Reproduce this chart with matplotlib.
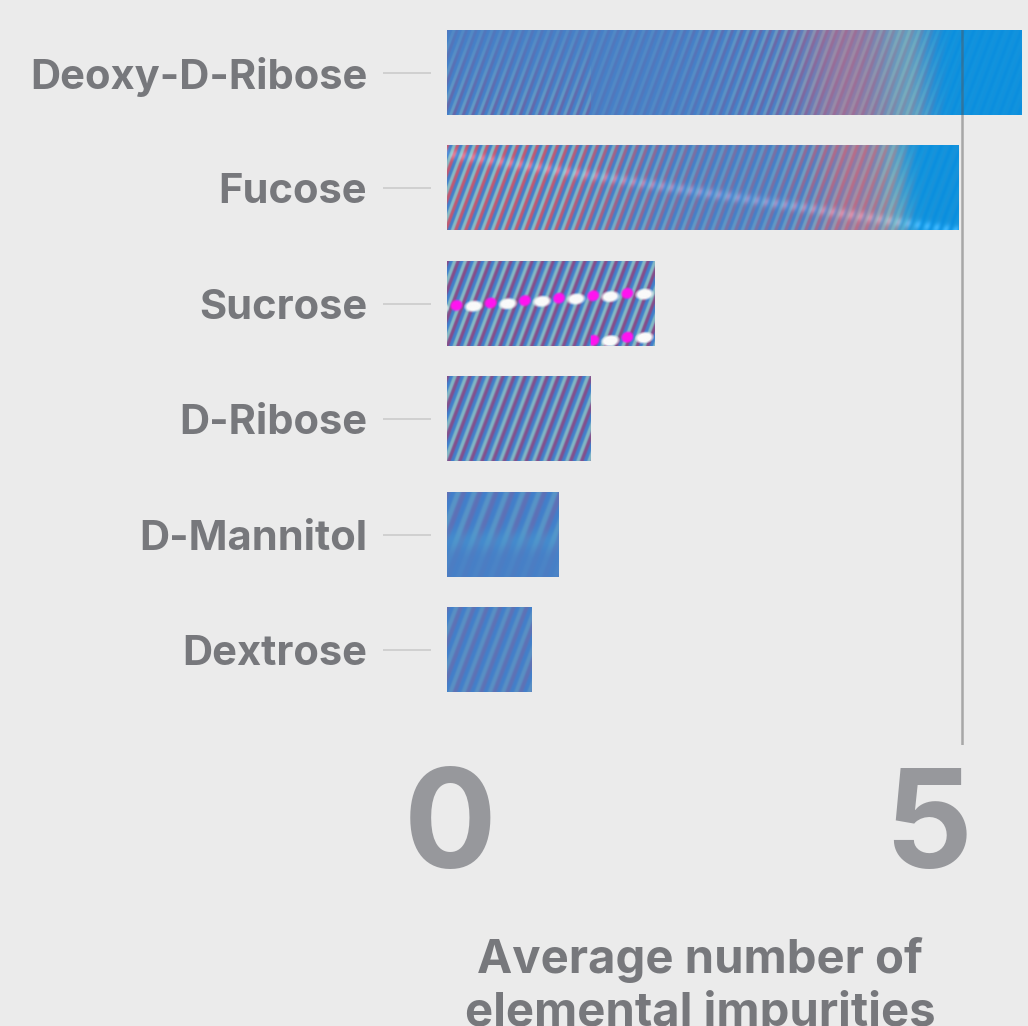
import numpy as np
import matplotlib.pyplot as plt
from matplotlib.transforms import ScaledTranslation

sugars = ['Deoxy-D-Ribose', 'Fucose', 'Sucrose', 'D-Ribose', 'D-Mannitol', 'Dextrose']
impurities = [5.58, 4.97, 2.01, 1.39, 1.08, 0.82]
x_ticks = [0, 5]
x_tick_labels = ['0', '5']
x_title = 'Average number of\nelemental impurities'

BG = '#ebebeb'
TEXT = '#77787c'
PX_PER_UNIT = 103.0   # 0 at x=447px, 5 at x=962px
BAR_PX = 84

plt.rcParams['font.family'] = ['Inter', 'Liberation Sans', 'DejaVu Sans']
plt.rcParams['font.weight'] = 'bold'


def rgb(*c):
    return np.array(c, dtype=float) / 255.0


def smooth(x, a, b):
    t = np.clip((x - a) / (b - a), 0, 1)
    return t * t * (3 - 2 * t)


def gauss(x, c, s):
    return np.exp(-0.5 * ((x - c) / s) ** 2)


BLUE = rgb(60, 126, 206)
TEAL = rgb(140, 195, 198)
PURPLE = rgb(140, 68, 130)
RED = rgb(205, 82, 104)
FLAT = rgb(72, 128, 198)
BRIGHT = rgb(0, 144, 226)


# striped "photo" texture used as bar fill
def texture(w, h, period, amp, tones, haze=None, bright=None, streak=None,
            band=None, dots=False):
    rows, cols = np.mgrid[0:h, 0:w].astype(float)
    frac = cols / max(w - 1, 1)
    p = 2 * np.pi * (cols + 0.38 * rows) / period
    wts = [np.exp(2.2 * np.cos(p - k * 2 * np.pi / 3)) for k in range(3)]
    tot = sum(wts)
    stripes = sum(wk[..., None] * c for wk, c in zip(wts, tones)) / tot[..., None]
    a = np.clip(amp(frac, rows / h), 0, 1)[..., None]
    img = FLAT * (1 - a) + stripes * a
    if haze is not None:
        c, s = haze
        g = gauss(frac, c, s)[..., None]
        img = img * (1 - 0.55 * g) + rgb(200, 118, 138) * 0.55 * g
        g2 = gauss(frac, c + 1.7 * s, s * 0.6)[..., None]
        img = img * (1 - 0.45 * g2) + rgb(120, 195, 190) * 0.45 * g2
    if bright is not None:
        m = smooth(frac, bright[0], bright[1])[..., None]
        lift = 0.10 * (0.5 + 0.5 * np.cos(p))[..., None]
        img = img * (1 - 0.85 * m) + (BRIGHT + lift * rgb(60, 80, 20)) * 0.85 * m
    if streak is not None:
        r0, slope = streak
        d = np.abs(rows - (r0 + slope * cols))
        g = gauss(d, 0, 3.5) * (0.6 + 0.4 * np.cos(p))
        img += 0.14 * g[..., None]
    if band is not None:
        rc, rs = band
        g = gauss(rows, rc, rs)[..., None]
        img = img * (1 - 0.35 * g) + rgb(70, 160, 212) * 0.35 * g
    if dots:
        # white / magenta dashed curves
        for r0, c0, slope, cmin in [(46, 0, -0.07, 0), (80, 143, -0.09, 143)]:
            rc = r0 + slope * (cols - c0)
            ph = np.mod(cols - 26, 34)
            dw = ((ph - np.where(ph > 17, 34, 0)) / 8.0) ** 2 + ((rows - rc) / 5.0) ** 2
            ph2 = np.mod(cols - 9, 34)
            dm = ((ph2 - np.where(ph2 > 17, 34, 0)) / 5.5) ** 2 + ((rows - rc + 2) / 5.0) ** 2
            on = cols >= cmin
            mw = (np.clip(1.6 - dw, 0, 1) * on)[..., None]
            mm = (np.clip(1.6 - dm, 0, 1) * on)[..., None]
            img = img * (1 - mw) + rgb(250, 250, 250) * mw
            img = img * (1 - mm) + rgb(255, 20, 240) * mm
    return np.clip(img, 0, 1)


fills = [
    dict(period=9.5, tones=(PURPLE, BLUE, TEAL),
         amp=lambda f, r: 0.15 + 0.3 * r * (f < 0.25) + 0.35 * smooth(f, 0.35, 0.65) - 0.2 * smooth(f, 0.85, 0.95),
         haze=(0.70, 0.06), bright=(0.80, 0.88)),
    dict(period=10.0, tones=(RED, BLUE, TEAL),
         amp=lambda f, r: 0.95 - 0.6 * smooth(f, 0.15, 0.55) + 0.35 * smooth(f, 0.6, 0.8) - 0.3 * smooth(f, 0.9, 0.97),
         haze=(0.80, 0.05), bright=(0.86, 0.93), streak=(8, 0.15)),
    dict(period=10.5, tones=(PURPLE, BLUE, TEAL), amp=lambda f, r: 0.95 + 0 * f, dots=True),
    dict(period=11.0, tones=(PURPLE, BLUE, TEAL), amp=lambda f, r: 0.9 + 0 * f),
    dict(period=16.0, tones=(rgb(110, 100, 170), BLUE, rgb(100, 165, 200)),
         amp=lambda f, r: 0.6 * (1 - 0.8 * smooth(r, 0.45, 0.8)), band=(47, 7)),
    dict(period=13.0, tones=(rgb(115, 100, 165), BLUE, rgb(105, 160, 195)),
         amp=lambda f, r: 0.55 + 0 * f),
]

fig = plt.figure(figsize=(10.28, 10.26), dpi=100, facecolor=BG)
ax = fig.add_axes([447 / 1028, 1 - 745 / 1026, 581 / 1028, 715 / 1026])
ax.set_facecolor(BG)

ypos = np.arange(len(sugars))
bar_h = 0.728
bars = ax.barh(ypos, impurities, height=bar_h, color='#4a80c6', zorder=2)

for bar, opts in zip(bars, fills):
    x0, y0 = bar.get_x(), bar.get_y()
    bw, bh = bar.get_width(), bar.get_height()
    img = texture(int(round(bw * PX_PER_UNIT)), BAR_PX, **opts)
    ax.imshow(img, extent=(x0, x0 + bw, y0 + bh, y0), aspect='auto',
              interpolation='bilinear', zorder=2.5)

ax.axvline(5, color='#555555', alpha=0.45, lw=1.8, zorder=3)

ax.set_xlim(0, 581 / PX_PER_UNIT)
ax.set_ylim(5.823, -0.373)

for s in ax.spines.values():
    s.set_visible(False)
ax.spines['left'].set_position(('outward', 11.5))

ax.set_yticks(ypos)
ax.set_yticklabels(sugars, fontweight='bold')
ax.tick_params(axis='y', length=34.5, width=1.1, color='#c8c8c8', pad=11.5,
               labelsize=30, labelcolor=TEXT)

ax.set_xticks(x_ticks)
ax.set_xticklabels(x_tick_labels, fontweight='bold')
ax.tick_params(axis='x', length=0, labelsize=99, labelcolor='#97989c', pad=16.5)
shifts = [3, -34]
for lab, dx in zip(ax.get_xticklabels(), shifts):
    lab.set_transform(lab.get_transform() + ScaledTranslation(dx / 100, 0, fig.dpi_scale_trans))

fig.text(700 / 1028, 1 - 937 / 1026, x_title, ha='center', va='top',
         fontsize=34, fontweight='bold', color=TEXT)

fig.savefig('out.png', dpi=100, facecolor=BG)
